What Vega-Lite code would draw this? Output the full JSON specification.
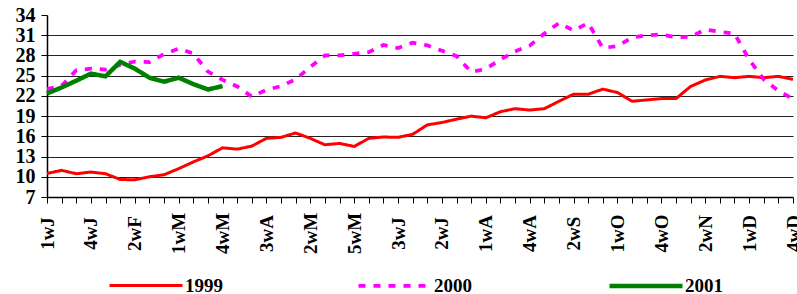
{
  "$schema": "https://vega.github.io/schema/vega-lite/v6.json",
  "autosize": "none",
  "width": 746,
  "height": 182,
  "padding": {"left": 47, "top": 15, "right": 4, "bottom": 97},
  "background": "white",
  "config": {
    "view": {"stroke": null},
    "font": "Liberation Serif"
  },
  "data": {
    "values": [
      {"week": 1, "year": "1999", "value": 10.5},
      {"week": 2, "year": "1999", "value": 10.95},
      {"week": 3, "year": "1999", "value": 10.45},
      {"week": 4, "year": "1999", "value": 10.7},
      {"week": 5, "year": "1999", "value": 10.45},
      {"week": 6, "year": "1999", "value": 9.6},
      {"week": 7, "year": "1999", "value": 9.55},
      {"week": 8, "year": "1999", "value": 10.0},
      {"week": 9, "year": "1999", "value": 10.3},
      {"week": 10, "year": "1999", "value": 11.2},
      {"week": 11, "year": "1999", "value": 12.2},
      {"week": 12, "year": "1999", "value": 13.1},
      {"week": 13, "year": "1999", "value": 14.3},
      {"week": 14, "year": "1999", "value": 14.1},
      {"week": 15, "year": "1999", "value": 14.55},
      {"week": 16, "year": "1999", "value": 15.7},
      {"week": 17, "year": "1999", "value": 15.85},
      {"week": 18, "year": "1999", "value": 16.5},
      {"week": 19, "year": "1999", "value": 15.7},
      {"week": 20, "year": "1999", "value": 14.75},
      {"week": 21, "year": "1999", "value": 14.95},
      {"week": 22, "year": "1999", "value": 14.5},
      {"week": 23, "year": "1999", "value": 15.7},
      {"week": 24, "year": "1999", "value": 15.9},
      {"week": 25, "year": "1999", "value": 15.85},
      {"week": 26, "year": "1999", "value": 16.3},
      {"week": 27, "year": "1999", "value": 17.7},
      {"week": 28, "year": "1999", "value": 18.05},
      {"week": 29, "year": "1999", "value": 18.55},
      {"week": 30, "year": "1999", "value": 19.0},
      {"week": 31, "year": "1999", "value": 18.75},
      {"week": 32, "year": "1999", "value": 19.65},
      {"week": 33, "year": "1999", "value": 20.1},
      {"week": 34, "year": "1999", "value": 19.9},
      {"week": 35, "year": "1999", "value": 20.1},
      {"week": 36, "year": "1999", "value": 21.2},
      {"week": 37, "year": "1999", "value": 22.25},
      {"week": 38, "year": "1999", "value": 22.25},
      {"week": 39, "year": "1999", "value": 23.0},
      {"week": 40, "year": "1999", "value": 22.5},
      {"week": 41, "year": "1999", "value": 21.2},
      {"week": 42, "year": "1999", "value": 21.4},
      {"week": 43, "year": "1999", "value": 21.6},
      {"week": 44, "year": "1999", "value": 21.6},
      {"week": 45, "year": "1999", "value": 23.4},
      {"week": 46, "year": "1999", "value": 24.35},
      {"week": 47, "year": "1999", "value": 24.9},
      {"week": 48, "year": "1999", "value": 24.7},
      {"week": 49, "year": "1999", "value": 24.9},
      {"week": 50, "year": "1999", "value": 24.7},
      {"week": 51, "year": "1999", "value": 24.9},
      {"week": 52, "year": "1999", "value": 24.45},
      {"week": 1, "year": "2000", "value": 23.0},
      {"week": 2, "year": "2000", "value": 23.5},
      {"week": 3, "year": "2000", "value": 25.8},
      {"week": 4, "year": "2000", "value": 26.05},
      {"week": 5, "year": "2000", "value": 25.9},
      {"week": 6, "year": "2000", "value": 26.6},
      {"week": 7, "year": "2000", "value": 27.1},
      {"week": 8, "year": "2000", "value": 27.0},
      {"week": 9, "year": "2000", "value": 28.2},
      {"week": 10, "year": "2000", "value": 29.0},
      {"week": 11, "year": "2000", "value": 28.3},
      {"week": 12, "year": "2000", "value": 25.6},
      {"week": 13, "year": "2000", "value": 24.4},
      {"week": 14, "year": "2000", "value": 23.4},
      {"week": 15, "year": "2000", "value": 21.9},
      {"week": 16, "year": "2000", "value": 22.9},
      {"week": 17, "year": "2000", "value": 23.45},
      {"week": 18, "year": "2000", "value": 24.45},
      {"week": 19, "year": "2000", "value": 26.3},
      {"week": 20, "year": "2000", "value": 28.0},
      {"week": 21, "year": "2000", "value": 28.0},
      {"week": 22, "year": "2000", "value": 28.25},
      {"week": 23, "year": "2000", "value": 28.5},
      {"week": 24, "year": "2000", "value": 29.55},
      {"week": 25, "year": "2000", "value": 29.1},
      {"week": 26, "year": "2000", "value": 29.9},
      {"week": 27, "year": "2000", "value": 29.5},
      {"week": 28, "year": "2000", "value": 28.7},
      {"week": 29, "year": "2000", "value": 27.9},
      {"week": 30, "year": "2000", "value": 25.55},
      {"week": 31, "year": "2000", "value": 26.0},
      {"week": 32, "year": "2000", "value": 27.4},
      {"week": 33, "year": "2000", "value": 28.6},
      {"week": 34, "year": "2000", "value": 29.45},
      {"week": 35, "year": "2000", "value": 31.25},
      {"week": 36, "year": "2000", "value": 32.8},
      {"week": 37, "year": "2000", "value": 31.7},
      {"week": 38, "year": "2000", "value": 32.8},
      {"week": 39, "year": "2000", "value": 29.1},
      {"week": 40, "year": "2000", "value": 29.4},
      {"week": 41, "year": "2000", "value": 30.65},
      {"week": 42, "year": "2000", "value": 31.0},
      {"week": 43, "year": "2000", "value": 31.1},
      {"week": 44, "year": "2000", "value": 30.7},
      {"week": 45, "year": "2000", "value": 30.75},
      {"week": 46, "year": "2000", "value": 31.85},
      {"week": 47, "year": "2000", "value": 31.5},
      {"week": 48, "year": "2000", "value": 31.25},
      {"week": 49, "year": "2000", "value": 27.4},
      {"week": 50, "year": "2000", "value": 24.45},
      {"week": 51, "year": "2000", "value": 22.75},
      {"week": 52, "year": "2000", "value": 21.55},
      {"week": 1, "year": "2001", "value": 22.35},
      {"week": 2, "year": "2001", "value": 23.25},
      {"week": 3, "year": "2001", "value": 24.25},
      {"week": 4, "year": "2001", "value": 25.3},
      {"week": 5, "year": "2001", "value": 24.9},
      {"week": 6, "year": "2001", "value": 27.05},
      {"week": 7, "year": "2001", "value": 26.05},
      {"week": 8, "year": "2001", "value": 24.7},
      {"week": 9, "year": "2001", "value": 24.1},
      {"week": 10, "year": "2001", "value": 24.7},
      {"week": 11, "year": "2001", "value": 23.75},
      {"week": 12, "year": "2001", "value": 22.95},
      {"week": 13, "year": "2001", "value": 23.45}
    ]
  },
  "mark": {"type": "line", "strokeCap": "butt", "strokeJoin": "miter"},
  "encoding": {
    "x": {
      "field": "week",
      "type": "quantitative",
      "scale": {"domain": [1, 52], "nice": false, "zero": false},
      "axis": {
        "title": null,
        "grid": false,
        "values": [1,2,3,4,5,6,7,8,9,10,11,12,13,14,15,16,17,18,19,20,21,22,23,24,25,26,27,28,29,30,31,32,33,34,35,36,37,38,39,40,41,42,43,44,45,46,47,48,49,50,51,52],
        "labelExpr": "(datum.value - 1) % 3 == 0 ? ['1wJ','2wJ','3wJ','4wJ','5wJ','1wF','2wF','3wF','4wF','1wM','2wM','3wM','4wM','1wA','2wA','3wA','4wA','1wM','2wM','3wM','4wM','5wM','1wJ','2wJ','3wJ','4wJ','1wJ','2wJ','3wJ','4wJ','1wA','2wA','3wA','4wA','5wA','1wS','2wS','3wS','4wS','1wO','2wO','3wO','4wO','5wO','1wN','2wN','3wN','4wN','1wD','2wD','3wD','4wD'][datum.value - 1] : ''",
        "labelAngle": -90,
        "labelAlign": "center",
        "labelBaseline": "middle",
        "labelPadding": 30,
        "labelFont": "Liberation Serif",
        "labelFontWeight": "bold",
        "labelFontSize": 19,
        "labelColor": "black",
        "labelOverlap": false,
        "labelFlush": false,
        "tickSize": 6,
        "tickColor": "black",
        "domainColor": "black",
        "domainWidth": 1.5
      }
    },
    "y": {
      "field": "value",
      "type": "quantitative",
      "scale": {"domain": [7, 34], "nice": false, "zero": false},
      "axis": {
        "title": null,
        "values": [7, 10, 13, 16, 19, 22, 25, 28, 31, 34],
        "grid": true,
        "gridColor": "#222222",
        "gridWidth": 1.2,
        "gridOpacity": {"condition": {"test": "datum.value == 34 || datum.value == 7", "value": 0}, "value": 1},
        "labelFont": "Liberation Serif",
        "labelFontWeight": "bold",
        "labelFontSize": 20,
        "labelColor": "black",
        "labelPadding": 6,
        "tickSize": 6,
        "tickColor": "black",
        "domainColor": "black",
        "domainWidth": 1.5,
        "labelFlush": false
      }
    },
    "color": {
      "field": "year",
      "type": "nominal",
      "scale": {"domain": ["1999", "2000", "2001"], "range": ["#FF0000", "#FF00FF", "#008000"]},
      "legend": {
        "title": null,
        "orient": "none",
        "direction": "horizontal",
        "columns": 3,
        "legendX": 60,
        "legendY": 232,
        "symbolType": "stroke",
        "symbolSize": 5329,
        "symbolStrokeWidth": 3.5,
        "labelFont": "Liberation Serif",
        "labelFontWeight": "bold",
        "labelFontSize": 19,
        "labelColor": "black",
        "labelOffset": 0,
        "columnPadding": 128
      }
    },
    "strokeDash": {
      "field": "year",
      "type": "nominal",
      "scale": {"domain": ["1999", "2000", "2001"], "range": [[1, 0], [7, 8], [1, 0]]},
      "legend": null
    },
    "strokeWidth": {
      "field": "year",
      "type": "nominal",
      "scale": {"domain": ["1999", "2000", "2001"], "range": [3, 4.5, 5]},
      "legend": null
    }
  }
}
